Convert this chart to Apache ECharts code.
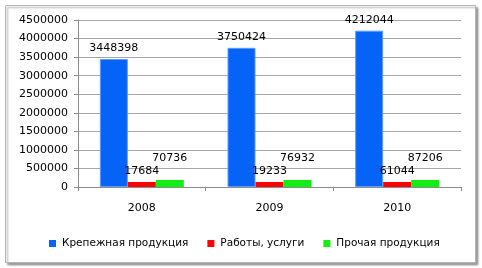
<!DOCTYPE html>
<html><head><meta charset="utf-8">
<script src="https://cdn.jsdelivr.net/npm/echarts@6/dist/echarts.min.js"></script>
<style>html,body{margin:0;padding:0;background:#fff}#c{width:482px;height:268px}</style>
</head><body><div id="c"></div>
<script>
var categories = ['2008', '2009', '2010'];
var seriesNames = ['Крепежная продукция', 'Работы, услуги', 'Прочая продукция'];
var fasteners = [3448398, 3750424, 4212044];
var services = [17684, 19233, 61044];
var other = [70736, 76932, 87206];
var yTicks = {min: 0, max: 4500000, interval: 500000};

var FONT = 'DejaVu Sans';
var chart = echarts.init(document.getElementById('c'), null, {renderer: 'canvas'});
var lbl = {show: true, position: 'top', distance: 5, color: '#000', fontFamily: FONT, fontSize: 11};
chart.setOption({
  animation: false,
  backgroundColor: '#fff',
  graphic: [{
    type: 'rect', left: 5, top: 5, z: -1,
    shape: {width: 470, height: 257},
    style: {fill: '#fff', stroke: '#b4b4b4', lineWidth: 1, shadowColor: 'rgba(0,0,0,0.35)', shadowBlur: 2, shadowOffsetX: 2, shadowOffsetY: 2}
  }],
  grid: {left: 78, right: 21, top: 20, bottom: 81, containLabel: false},
  legend: {
    left: 49, top: 238, itemWidth: 7, itemHeight: 7, itemGap: 19, padding: 0,
    icon: 'rect',
    itemStyle: {borderWidth: 0},
    textStyle: {fontFamily: FONT, fontSize: 10.5, color: '#000', padding: [0, 0, 0, 1]},
    data: seriesNames
  },
  xAxis: {
    type: 'category', data: categories,
    axisLine: {lineStyle: {color: '#8c8c8c'}},
    axisTick: {show: true, length: 4, alignWithLabel: false, lineStyle: {color: '#8c8c8c'}},
    axisLabel: {margin: 16, color: '#000', fontFamily: FONT, fontSize: 11}
  },
  yAxis: {
    type: 'value', min: yTicks.min, max: yTicks.max, interval: yTicks.interval,
    axisLine: {show: true, lineStyle: {color: '#8c8c8c'}},
    axisTick: {show: true, length: 4, lineStyle: {color: '#8c8c8c'}},
    splitLine: {lineStyle: {color: '#a6a6a6', width: 1}},
    axisLabel: {margin: 10, color: '#000', fontFamily: FONT, fontSize: 11, formatter: function (v) { return String(v); }}
  },
  series: [
    {name: seriesNames[0], type: 'bar', data: fasteners, barWidth: 28, barGap: '0%',
     itemStyle: {color: '#0563f8', borderColor: '#5a9cff', borderWidth: 1}, label: lbl},
    {name: seriesNames[1], type: 'bar', data: services, barWidth: 28, barGap: '0%', barMinHeight: 5,
     itemStyle: {color: '#ff0000'}, label: lbl},
    {name: seriesNames[2], type: 'bar', data: other, barWidth: 28, barGap: '0%', barMinHeight: 7,
     itemStyle: {color: '#11ee11'}, label: Object.assign({}, lbl, {offset: [0, -11]})}
  ]
});
</script></body></html>
